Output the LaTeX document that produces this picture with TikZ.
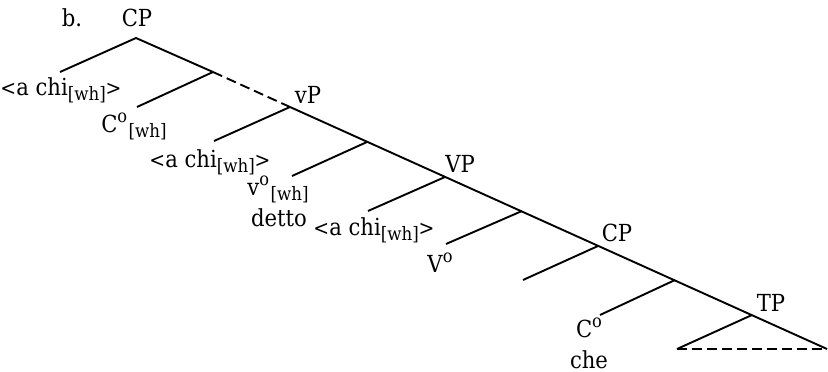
\documentclass[tikz,border=0pt]{standalone}
\usepackage{fontspec}
\setmainfont{DejaVu Serif Condensed}
\newcommand{\whsub}{\kern1.5pt\raisebox{-0.25em}{\fontsize{18.5}{19}\selectfont[wh]}}
\newcommand{\ring}{\raisebox{0.42em}{\fontsize{18}{18}\selectfont o}}
\newcommand{\angl}[1]{{\fontsize{21}{21}\selectfont#1}}
\newcommand{\achi}{\angl{<}a chi\raisebox{-0.25em}{\fontsize{18.5}{19}\selectfont[wh]}\angl{>}}

\begin{document}
\begin{tikzpicture}[x=1pt, y=-1pt, line width=1.9pt,
    lbl/.style={anchor=base, inner sep=0pt, font=\fontsize{23.5}{27}\selectfont},
    dashline/.style={dash pattern=on 10pt off 5pt}]
  \useasboundingbox (0,0) rectangle (828,372);
  % branching points along the spine
  \coordinate (top) at (136,38);
  \coordinate (n1) at (213,72);
  \coordinate (vp) at (290,107);
  \coordinate (n2) at (367,142);
  \coordinate (bigvp) at (445,177);
  \coordinate (n3) at (522,211);
  \coordinate (cp) at (598,246);
  \coordinate (n4) at (675,280);
  \coordinate (tp) at (752,315);
  % left ends of the branches
  \coordinate (e0) at (60,72);
  \coordinate (e1) at (137,107);
  \coordinate (e2) at (214,141);
  \coordinate (e3) at (292,176);
  \coordinate (e4) at (368,211);
  \coordinate (e5) at (446,244);
  \coordinate (e6) at (523,280);
  \coordinate (e7) at (600,315);
  % triangle under TP
  \coordinate (tl) at (677,349);
  \coordinate (tr) at (827,349);

  % labels
  \node[lbl] (ex) at (72,27) {b.};
  \node[lbl] (root) at (137,27) {CP};
  \node[lbl] (spec1) at (61,95) {\achi};
  \node[lbl] (head1) at (134,132) {C\ring\whsub};
  \node[lbl] (vplab) at (308,103) {vP};
  \node[lbl] (spec2) at (210,167) {\achi};
  \node[lbl] (head2) at (278,195) {v\ring\whsub};
  \node[lbl] (detto) at (279,226) {detto};
  \node[lbl] (vplab2) at (460,172) {VP};
  \node[lbl] (spec3) at (374,235) {\achi};
  \node[lbl] (head3) at (440,272) {V\ring};
  \node[lbl] (cplab) at (617,241) {CP};
  \node[lbl] (head4) at (589,337) {C\ring};
  \node[lbl] (che) at (589,368) {che};
  \node[lbl] (tplab) at (771,311) {TP};

  % tree lines
  \draw (e0) -- (top) -- (n1);
  \draw (e1) -- (n1);
  \draw[dashline] (n1) -- (vp);
  \draw (vp) -- (tr);
  \draw (e2) -- (vp);
  \draw (e3) -- (n2);
  \draw (e4) -- (bigvp);
  \draw (e5) -- (n3);
  \draw (e6) -- (cp);
  \draw (e7) -- (n4);
  \draw (tp) -- (tl);
  \draw[dashline] (tl) -- (tr);
\end{tikzpicture}
\end{document}
